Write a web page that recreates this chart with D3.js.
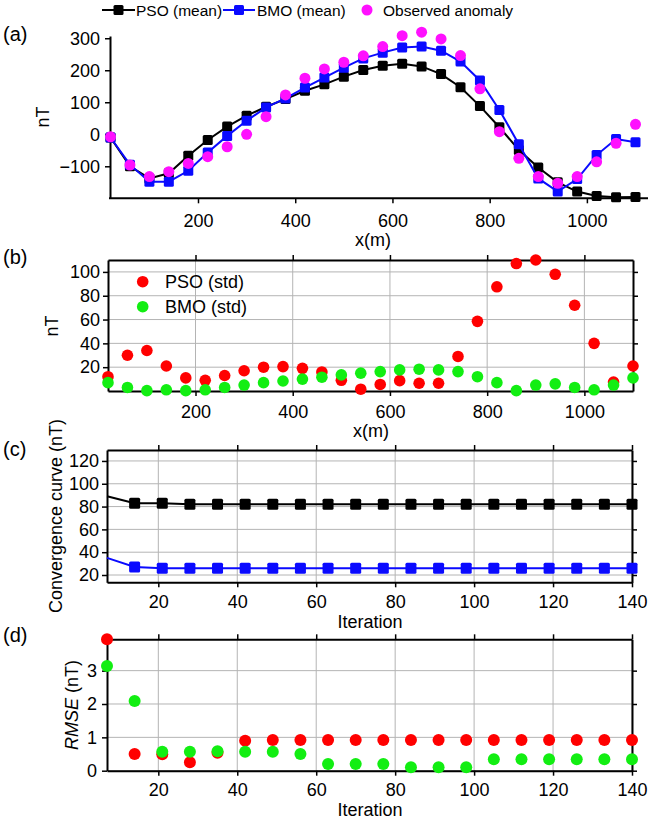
<!DOCTYPE html>
<html><head><meta charset="utf-8">
<script src="https://cdn.jsdelivr.net/npm/d3@7/dist/d3.min.js"></script>
<style>body{margin:0;background:#fff}</style>
</head><body><svg id="chart" width="649" height="819"></svg>
<script>
// ---------- DATA ----------
const xPos = [20,60,100,140,180,220,260,300,340,380,420,460,500,540,580,620,660,700,740,780,820,860,900,940,980,1020,1060,1100];
const psoMean = [-10,-100,-138,-122,-67,-18,24,58,86,110,136,156,180,201,214,220,212,188,147,88,22,-49,-104,-150,-179,-193,-197,-196];
const bmoMean = [-10,-95,-148,-148,-114,-57,-5,42,84,112,146,177,208,237,255,271,274,261,227,168,76,-31,-138,-179,-140,-65,-15,-25];
const observed = [-8,-96,-132,-117,-91,-70,-39,0,55,123,175,204,225,245,274,308,319,298,246,142,8,-75,-132,-153,-132,-86,-28,31];
const psoStd = [12,30,34,21,11,9,13,17,20,20.5,19,16,9,1.5,5.5,8.7,6.5,6.5,29,58.5,87.5,107,110,98,72,40,7.5,21];
const bmoStd = [7,3,0.3,1,0.3,1,3,5,7,8.4,10,11.6,13.5,15,16.3,17.7,18.3,17.7,16.3,12,7,0.3,5,6,3,1,5,11];
const iterations = [7,14,21,28,35,42,49,56,63,70,77,84,91,98,105,112,119,126,133,140];
const psoConv = [89,83,83,82,82,82,82,82,82,82,82,82,82,82,82,82,82,82,82,82];
const bmoConv = [35,27,26,26,26,26,26,26,26,26,26,26,26,26,26,26,26,26,26,26];
const psoRmse = [3.94,0.5,0.49,0.25,0.54,0.9,0.92,0.92,0.92,0.92,0.92,0.92,0.92,0.92,0.92,0.92,0.92,0.92,0.92,0.92];
const bmoRmse = [3.14,2.09,0.57,0.57,0.58,0.57,0.57,0.5,0.2,0.2,0.2,0.1,0.1,0.1,0.34,0.34,0.34,0.34,0.34,0.34];
const xTicksM = [200,400,600,800,1000];
const yTicksA = [-100,0,100,200,300];
const yTicksB = [20,40,60,80,100];
const yTicksC = [20,40,60,80,100,120];
const yTicksD = [0,1,2,3];
const iterTicks = [20,40,60,80,100,120,140];

// ---------- STYLE ----------
const FONT = '"Liberation Sans", Arial, sans-serif';
const C = {pso:"#000000", bmo:"#0a0aff", obs:"#ff10ff", red:"#ff0000", green:"#12ee12", grid:"#b4b4b4"};
const fmt = d3.format("d");
const svg = d3.select("#chart");

function styleAxis(g, fs, showText){
  g.attr("font-family", FONT).attr("font-size", fs);
  g.select(".domain").attr("stroke","#000").attr("stroke-width",2);
  g.selectAll(".tick line").attr("stroke","#000").attr("stroke-width",1.5);
  g.selectAll(".tick text").attr("fill","#000");
  if(!showText) g.selectAll(".tick text").remove();
}
function label(x,y,s,fs,opts={}){
  const t = svg.append("text").attr("x",x).attr("y",y).attr("font-family",FONT)
    .attr("font-size",fs).attr("fill","#000").attr("text-anchor",opts.anchor||"start").text(s);
  if(opts.rotate) t.attr("transform",`rotate(-90,${x},${y})`);
  return t;
}
function grid(x,y,xt,yt){
  const g = svg.append("g");
  g.selectAll("line.v").data(xt).join("line").attr("x1",d=>x(d)).attr("x2",d=>x(d))
    .attr("y1",y.range()[0]).attr("y2",y.range()[1]).attr("stroke",C.grid).attr("stroke-width",1);
  g.selectAll("line.h").data(yt).join("line").attr("y1",d=>y(d)).attr("y2",d=>y(d))
    .attr("x1",x.range()[0]).attr("x2",x.range()[1]).attr("stroke",C.grid).attr("stroke-width",1);
}
function box(x,y,xt,yt,yPad,xPad){
  const [x0,x1]=x.range(), [y0,y1]=y.range();
  styleAxis(svg.append("g").attr("transform",`translate(0,${y0})`).call(d3.axisBottom(x).tickValues(xt).tickFormat(fmt).tickSize(5).tickPadding(xPad).tickSizeOuter(0)),18,true);
  styleAxis(svg.append("g").attr("transform",`translate(0,${y1})`).call(d3.axisTop(x).tickValues(xt).tickSize(5).tickSizeOuter(0)),18,false);
  styleAxis(svg.append("g").attr("transform",`translate(${x0},0)`).call(d3.axisLeft(y).tickValues(yt).tickFormat(fmt).tickSize(5).tickPadding(yPad).tickSizeOuter(0)),18,true);
  styleAxis(svg.append("g").attr("transform",`translate(${x1},0)`).call(d3.axisRight(y).tickValues(yt).tickSize(5).tickSizeOuter(0)),18,false);
}
function squares(g,x,y,xs,ys,color,size){
  g.selectAll(null).data(xs.map((d,i)=>[d,ys[i]])).join("rect")
    .attr("x",d=>x(d[0])-size/2).attr("y",d=>y(d[1])-size/2).attr("width",size).attr("height",size)
    .attr("rx",1.5).attr("fill",color);
}
function dots(g,x,y,xs,ys,color,r){
  g.selectAll(null).data(xs.map((d,i)=>[d,ys[i]])).join("circle")
    .attr("cx",d=>x(d[0])).attr("cy",d=>y(d[1])).attr("r",r).attr("fill",color);
}
function line(g,x,y,xs,ys,color,w){
  g.append("path").datum(xs.map((d,i)=>[d,ys[i]]))
    .attr("d",d3.line().x(d=>x(d[0])).y(d=>y(d[1]))).attr("fill","none").attr("stroke",color).attr("stroke-width",w);
}

// ---------- PANEL (a) ----------
const xa = d3.scaleLinear().domain([20,1100]).range([110.5,635.5]);
const ya = d3.scaleLinear().domain([-200,307]).range([198.3,36]);
{
  const gy = svg.append("g").attr("transform","translate(110,0)")
    .call(d3.axisLeft(ya).tickValues(yTicksA).tickFormat(fmt).tickSize(5).tickPadding(5).tickSizeOuter(0));
  styleAxis(gy,18,true);
  const gx = svg.append("g").attr("transform","translate(0,198.3)")
    .call(d3.axisBottom(xa).tickValues(xTicksM).tickFormat(fmt).tickSize(5).tickPadding(11).tickSizeOuter(0));
  styleAxis(gx,18,true);
  gx.select(".domain").remove();
  svg.append("line").attr("x1",109).attr("x2",648).attr("y1",198.3).attr("y2",198.3).attr("stroke","#000").attr("stroke-width",2);
  const g = svg.append("g");
  line(g,xa,ya,xPos,psoMean,C.pso,2);
  squares(g,xa,ya,xPos,psoMean,C.pso,10);
  line(g,xa,ya,xPos,bmoMean,C.bmo,2);
  squares(g,xa,ya,xPos,bmoMean,C.bmo,10);
  dots(g,xa,ya,xPos,observed,C.obs,5.5);
  label(43,117,"nT",18,{anchor:"middle",rotate:true}).attr("dy","0.35em");
  label(373,246,"x(m)",18,{anchor:"middle"});
  label(3,41,"(a)",20);
  // legend
  const L = svg.append("g");
  L.append("line").attr("x1",102).attr("x2",135).attr("y1",10).attr("y2",10).attr("stroke",C.pso).attr("stroke-width",2);
  L.append("rect").attr("x",113.5).attr("y",5).attr("width",10).attr("height",10).attr("rx",1.5).attr("fill",C.pso);
  label(136,16,"PSO (mean)",15.5);
  L.append("line").attr("x1",223).attr("x2",255).attr("y1",10).attr("y2",10).attr("stroke",C.bmo).attr("stroke-width",2);
  L.append("rect").attr("x",234).attr("y",5).attr("width",10).attr("height",10).attr("rx",1.5).attr("fill",C.bmo);
  label(257,16,"BMO (mean)",15.5);
  L.append("circle").attr("cx",367).attr("cy",10).attr("r",5.5).attr("fill",C.obs);
  label(383,16,"Observed anomaly",15.5);
}

// ---------- PANEL (b) ----------
const xb = d3.scaleLinear().domain([20,1100]).range([108,633]);
const yb = d3.scaleLinear().domain([0,110]).range([391,260]);
{
  grid(xb,yb,xTicksM,yTicksB);
  box(xb,yb,xTicksM,yTicksB,3,9);
  const g = svg.append("g");
  dots(g,xb,yb,xPos,psoStd,C.red,5.8);
  dots(g,xb,yb,xPos,bmoStd,C.green,5.8);
  label(52,326,"nT",18,{anchor:"middle",rotate:true}).attr("dy","0.35em");
  label(371,437,"x(m)",18,{anchor:"middle"});
  label(3,264,"(b)",20);
  svg.append("circle").attr("cx",142.7).attr("cy",281.7).attr("r",5.8).attr("fill",C.red);
  label(165,288,"PSO (std)",18);
  svg.append("circle").attr("cx",142.7).attr("cy",306.7).attr("r",5.8).attr("fill",C.green);
  label(165,313,"BMO (std)",18);
}

// ---------- PANEL (c) ----------
const xc = d3.scaleLinear().domain([7,140]).range([107,632]);
const yc = d3.scaleLinear().domain([13.6,129.6]).range([582.3,450]);
{
  grid(xc,yc,iterTicks,yTicksC);
  box(xc,yc,iterTicks,yTicksC,3,8);
  const g = svg.append("g");
  line(g,xc,yc,iterations,psoConv,C.pso,2);
  squares(g,xc,yc,iterations.slice(1),psoConv.slice(1),C.pso,11);
  line(g,xc,yc,iterations,bmoConv,C.bmo,2);
  squares(g,xc,yc,iterations.slice(1),bmoConv.slice(1),C.bmo,11);
  label(56,516,"Convergence curve (nT)",18,{anchor:"middle",rotate:true}).attr("dy","0.35em");
  label(370,628,"Iteration",18,{anchor:"middle"});
  label(3,456,"(c)",20);
}

// ---------- PANEL (d) ----------
const xd = d3.scaleLinear().domain([7,140]).range([107,632]);
const yd = d3.scaleLinear().domain([0,3.94]).range([770.7,639.3]);
{
  grid(xd,yd,iterTicks,yTicksD);
  box(xd,yd,iterTicks,yTicksD,5,8);
  const g = svg.append("g");
  dots(g,xd,yd,iterations,psoRmse,C.red,6);
  dots(g,xd,yd,iterations,bmoRmse,C.green,6);
  const t = label(72,705,"",18,{anchor:"middle",rotate:true}).attr("dy","0.35em");
  t.append("tspan").attr("font-style","italic").text("RMSE");
  t.append("tspan").text(" (nT)");
  label(370,816,"Iteration",18,{anchor:"middle"});
  label(3,642,"(d)",20);
}
</script></body></html>
